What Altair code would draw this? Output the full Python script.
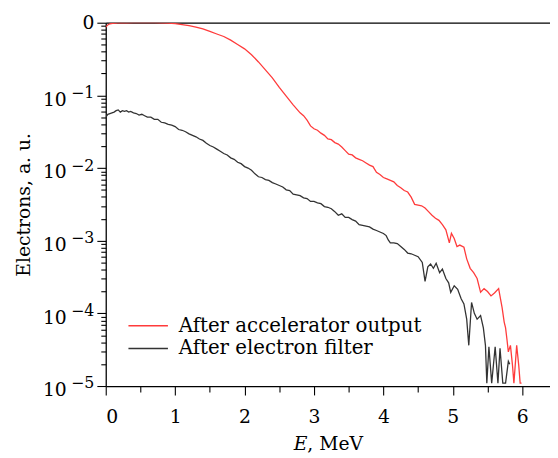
import altair as alt
import pandas as pd

# ---- data (E in MeV, log10 of electrons a.u.) ----
E_accel = [0.00, 0.03, 0.06, 0.10, 0.15, 0.2, 0.3, 0.4, 0.5, 0.6,
           0.7, 0.8, 0.9, 1.0, 1.1, 1.2, 1.3, 1.4, 1.5, 1.6,
           1.7, 1.8, 1.9, 2.0, 2.1, 2.2, 2.3, 2.4, 2.5, 2.6,
           2.7, 2.8, 2.85, 2.9, 2.95, 3.0, 3.05, 3.1, 3.15, 3.2,
           3.25, 3.3, 3.35, 3.4, 3.45, 3.5, 3.55, 3.6, 3.65, 3.7,
           3.75, 3.8, 3.85, 3.9, 3.95, 4.0, 4.05, 4.1, 4.15, 4.2,
           4.25, 4.3, 4.35, 4.4, 4.45, 4.5, 4.55, 4.6, 4.65, 4.7,
           4.75, 4.8, 4.85, 4.9, 4.95, 4.98, 5.02, 5.06, 5.1, 5.16,
           5.2, 5.25, 5.3, 5.35, 5.4, 5.45, 5.5, 5.55, 5.6, 5.66,
           5.71, 5.74, 5.76, 5.78, 5.80, 5.83, 5.86, 5.88, 5.92, 5.95,
           5.97, 5.99]
L_accel = [-0.06, -0.03, -0.015, -0.01, -0.005, 0.0, -0.002, 0.0, 0.0, 0.0,
           0.0, -0.003, -0.006, -0.012, -0.025, -0.04, -0.06, -0.085, -0.12, -0.155,
           -0.19, -0.24, -0.30, -0.36, -0.44, -0.54, -0.65, -0.76, -0.89, -1.01,
           -1.13, -1.24, -1.28, -1.34, -1.42, -1.46, -1.48, -1.52, -1.55, -1.60,
           -1.61, -1.65, -1.67, -1.71, -1.76, -1.81, -1.82, -1.86, -1.88, -1.90,
           -1.93, -1.96, -1.98, -2.06, -2.09, -2.13, -2.15, -2.17, -2.19, -2.24,
           -2.27, -2.31, -2.33, -2.40, -2.50, -2.51, -2.52, -2.55, -2.60, -2.65,
           -2.69, -2.72, -2.78, -2.85, -3.03, -2.90, -2.97, -3.08, -3.06, -3.09,
           -3.25, -3.38, -3.44, -3.52, -3.71, -3.66, -3.70, -3.76, -3.72, -3.66,
           -3.92, -4.12, -4.20, -4.36, -4.53, -4.44, -4.72, -4.96, -4.44, -4.72,
           -4.96, -4.96]

E_filter = [0.00, 0.03, 0.06, 0.09, 0.12, 0.15, 0.18, 0.21, 0.24, 0.27,
            0.30, 0.33, 0.36, 0.40, 0.44, 0.48, 0.52, 0.56, 0.60, 0.65,
            0.70, 0.75, 0.80, 0.85, 0.90, 0.95, 1.00, 1.05, 1.10, 1.15,
            1.20, 1.25, 1.30, 1.35, 1.40, 1.45, 1.50, 1.55, 1.60, 1.65,
            1.70, 1.75, 1.80, 1.85, 1.90, 1.95, 2.00, 2.05, 2.10, 2.15,
            2.20, 2.25, 2.30, 2.35, 2.40, 2.45, 2.50, 2.55, 2.60, 2.65,
            2.70, 2.75, 2.80, 2.85, 2.90, 2.95, 3.00, 3.05, 3.10, 3.15,
            3.20, 3.25, 3.30, 3.35, 3.40, 3.45, 3.50, 3.55, 3.60, 3.65,
            3.70, 3.75, 3.80, 3.85, 3.90, 3.95, 4.00, 4.04, 4.07, 4.10,
            4.15, 4.20, 4.25, 4.30, 4.35, 4.40, 4.45, 4.50, 4.56, 4.60,
            4.64, 4.68, 4.72, 4.76, 4.81, 4.85, 4.90, 4.94, 4.97, 5.02,
            5.07, 5.12, 5.16, 5.20, 5.23, 5.27, 5.31, 5.35, 5.40, 5.44,
            5.47, 5.49, 5.52, 5.56, 5.61, 5.65, 5.68, 5.72, 5.76, 5.80,
            5.82]
L_filter = [-1.30, -1.26, -1.25, -1.24, -1.23, -1.21, -1.20, -1.23, -1.21, -1.22,
            -1.21, -1.23, -1.22, -1.24, -1.25, -1.27, -1.26, -1.28, -1.30, -1.30,
            -1.33, -1.33, -1.37, -1.38, -1.40, -1.41, -1.43, -1.47, -1.48, -1.50,
            -1.53, -1.55, -1.57, -1.60, -1.62, -1.66, -1.69, -1.71, -1.74, -1.77,
            -1.80, -1.82, -1.86, -1.88, -1.92, -1.94, -1.98, -2.00, -2.03, -2.08,
            -2.12, -2.13, -2.16, -2.17, -2.20, -2.22, -2.24, -2.26, -2.30, -2.31,
            -2.36, -2.37, -2.38, -2.41, -2.42, -2.46, -2.46, -2.48, -2.49, -2.53,
            -2.54, -2.56, -2.60, -2.65, -2.63, -2.68, -2.68, -2.71, -2.73, -2.78,
            -2.79, -2.80, -2.81, -2.84, -2.86, -2.88, -2.90, -2.93, -2.99, -3.03,
            -3.03, -3.04, -3.08, -3.12, -3.17, -3.18, -3.20, -3.22, -3.30, -3.56,
            -3.36, -3.32, -3.38, -3.31, -3.44, -3.39, -3.52, -3.58, -3.71, -3.62,
            -3.67, -3.80, -3.87, -4.08, -4.44, -3.85, -4.00, -4.08, -4.03, -4.20,
            -4.44, -4.96, -4.46, -4.96, -4.46, -4.96, -4.48, -4.96, -4.96, -4.66,
            -4.70]

series_names = ["After accelerator output", "After electron filter"]
series_colors = ["#ff3b3b", "#333333"]

x_ticks = [0, 0.5, 1, 1.5, 2, 2.5, 3, 3.5, 4, 4.5, 5, 5.5, 6]
y_ticks = [m * 10.0 ** (-k) for k in range(5, 0, -1) for m in range(1, 10)] + [1.0]
y_decades = [1e-5, 1e-4, 1e-3, 1e-2, 1e-1, 1.0]

rows = []
for name, xs, ls in [(series_names[0], E_accel, L_accel), (series_names[1], E_filter, L_filter)]:
    for i, (e, l) in enumerate(zip(xs, ls)):
        rows.append({"E": e, "N": 10.0 ** l, "series": name, "order": i})
df = pd.DataFrame(rows)

FONT = "DejaVu Serif"
FS = 19

dec_test = "abs(log(datum.value)/LN10 - round(log(datum.value)/LN10)) < 1e-6"
exp_expr = "round(log(datum.value)/LN10)"

x_scale = alt.Scale(domain=[0, 6.4], nice=False, zero=False)
y_scale = alt.Scale(type="log", domain=[1e-5, 1], nice=False)

lines = alt.Chart(df).mark_line(strokeWidth=1.3, clip=True).encode(
    x=alt.X("E:Q", scale=x_scale,
            axis=alt.Axis(values=x_ticks, title="𝐸, MeV", grid=False,
                          labelExpr="datum.value % 1 == 0 ? format(datum.value, 'd') : ''",
                          tickSize={"condition": {"test": "datum.value % 1 == 0", "value": 9}, "value": 6},
                          labelPadding=13, titlePadding=8)),
    y=alt.Y("N:Q", scale=y_scale,
            axis=alt.Axis(values=y_ticks, title="Electrons, a. u.", grid=False,
                          labelExpr=f"({dec_test}) && {exp_expr} != 0 ? '10' : ''",
                          tickSize={"condition": {"test": dec_test, "value": 9}, "value": 5},
                          labelOffset=4, labelPadding=31, titlePadding=9)),
    color=alt.Color("series:N", scale=alt.Scale(domain=series_names, range=series_colors),
                    legend=alt.Legend(title=None, orient="none", legendX=33, legendY=297,
                                      symbolType="M-4,0H4", symbolSize=100, symbolStrokeWidth=1.6,
                                      labelFont=FONT, labelFontSize=20, labelLimit=400,
                                      rowPadding=3, symbolOffset=0, labelOffset=21, padding=0)),
    order="order:Q",
)

sup = alt.Chart(df).mark_point(opacity=0).encode(
    x=alt.X("E:Q", scale=x_scale,
            axis=alt.Axis(orient="top", labels=False, ticks=False, title=None, grid=False,
                          domainColor="black", domainWidth=1.3)),
    y=alt.Y("N:Q", scale=y_scale,
            axis=alt.Axis(orient="left", values=y_decades, title=None, grid=False,
                          ticks=False, tickSize=0, domain=False,
                          labelExpr=f"{exp_expr} == 0 ? '0\u00a0' : '\u2212' + format(-{exp_expr}, 'd')",
                          labelFontSize={"condition": {"test": "datum.value == 1", "value": FS}, "value": 16},
                          labelOffset={"condition": {"test": "datum.value == 1", "value": 0}, "value": -3},
                          labelPadding=12)),
)

chart = alt.layer(lines, sup).resolve_axis(x="independent", y="independent").properties(
    width=450, height=368,
    autosize=alt.AutoSizeParams(type="none"),
    padding={"left": 99, "top": 12, "right": 0, "bottom": 70},
).configure_axis(
    labelFont=FONT, titleFont=FONT, labelFontSize=FS, titleFontSize=FS,
    labelColor="black", titleColor="black", domainColor="black", tickColor="black",
    titleFontWeight="normal", domainWidth=1.3, tickWidth=1.1,
).configure_view(stroke=None)

chart.save("out.html", embed_options={"renderer": "svg", "actions": False})
